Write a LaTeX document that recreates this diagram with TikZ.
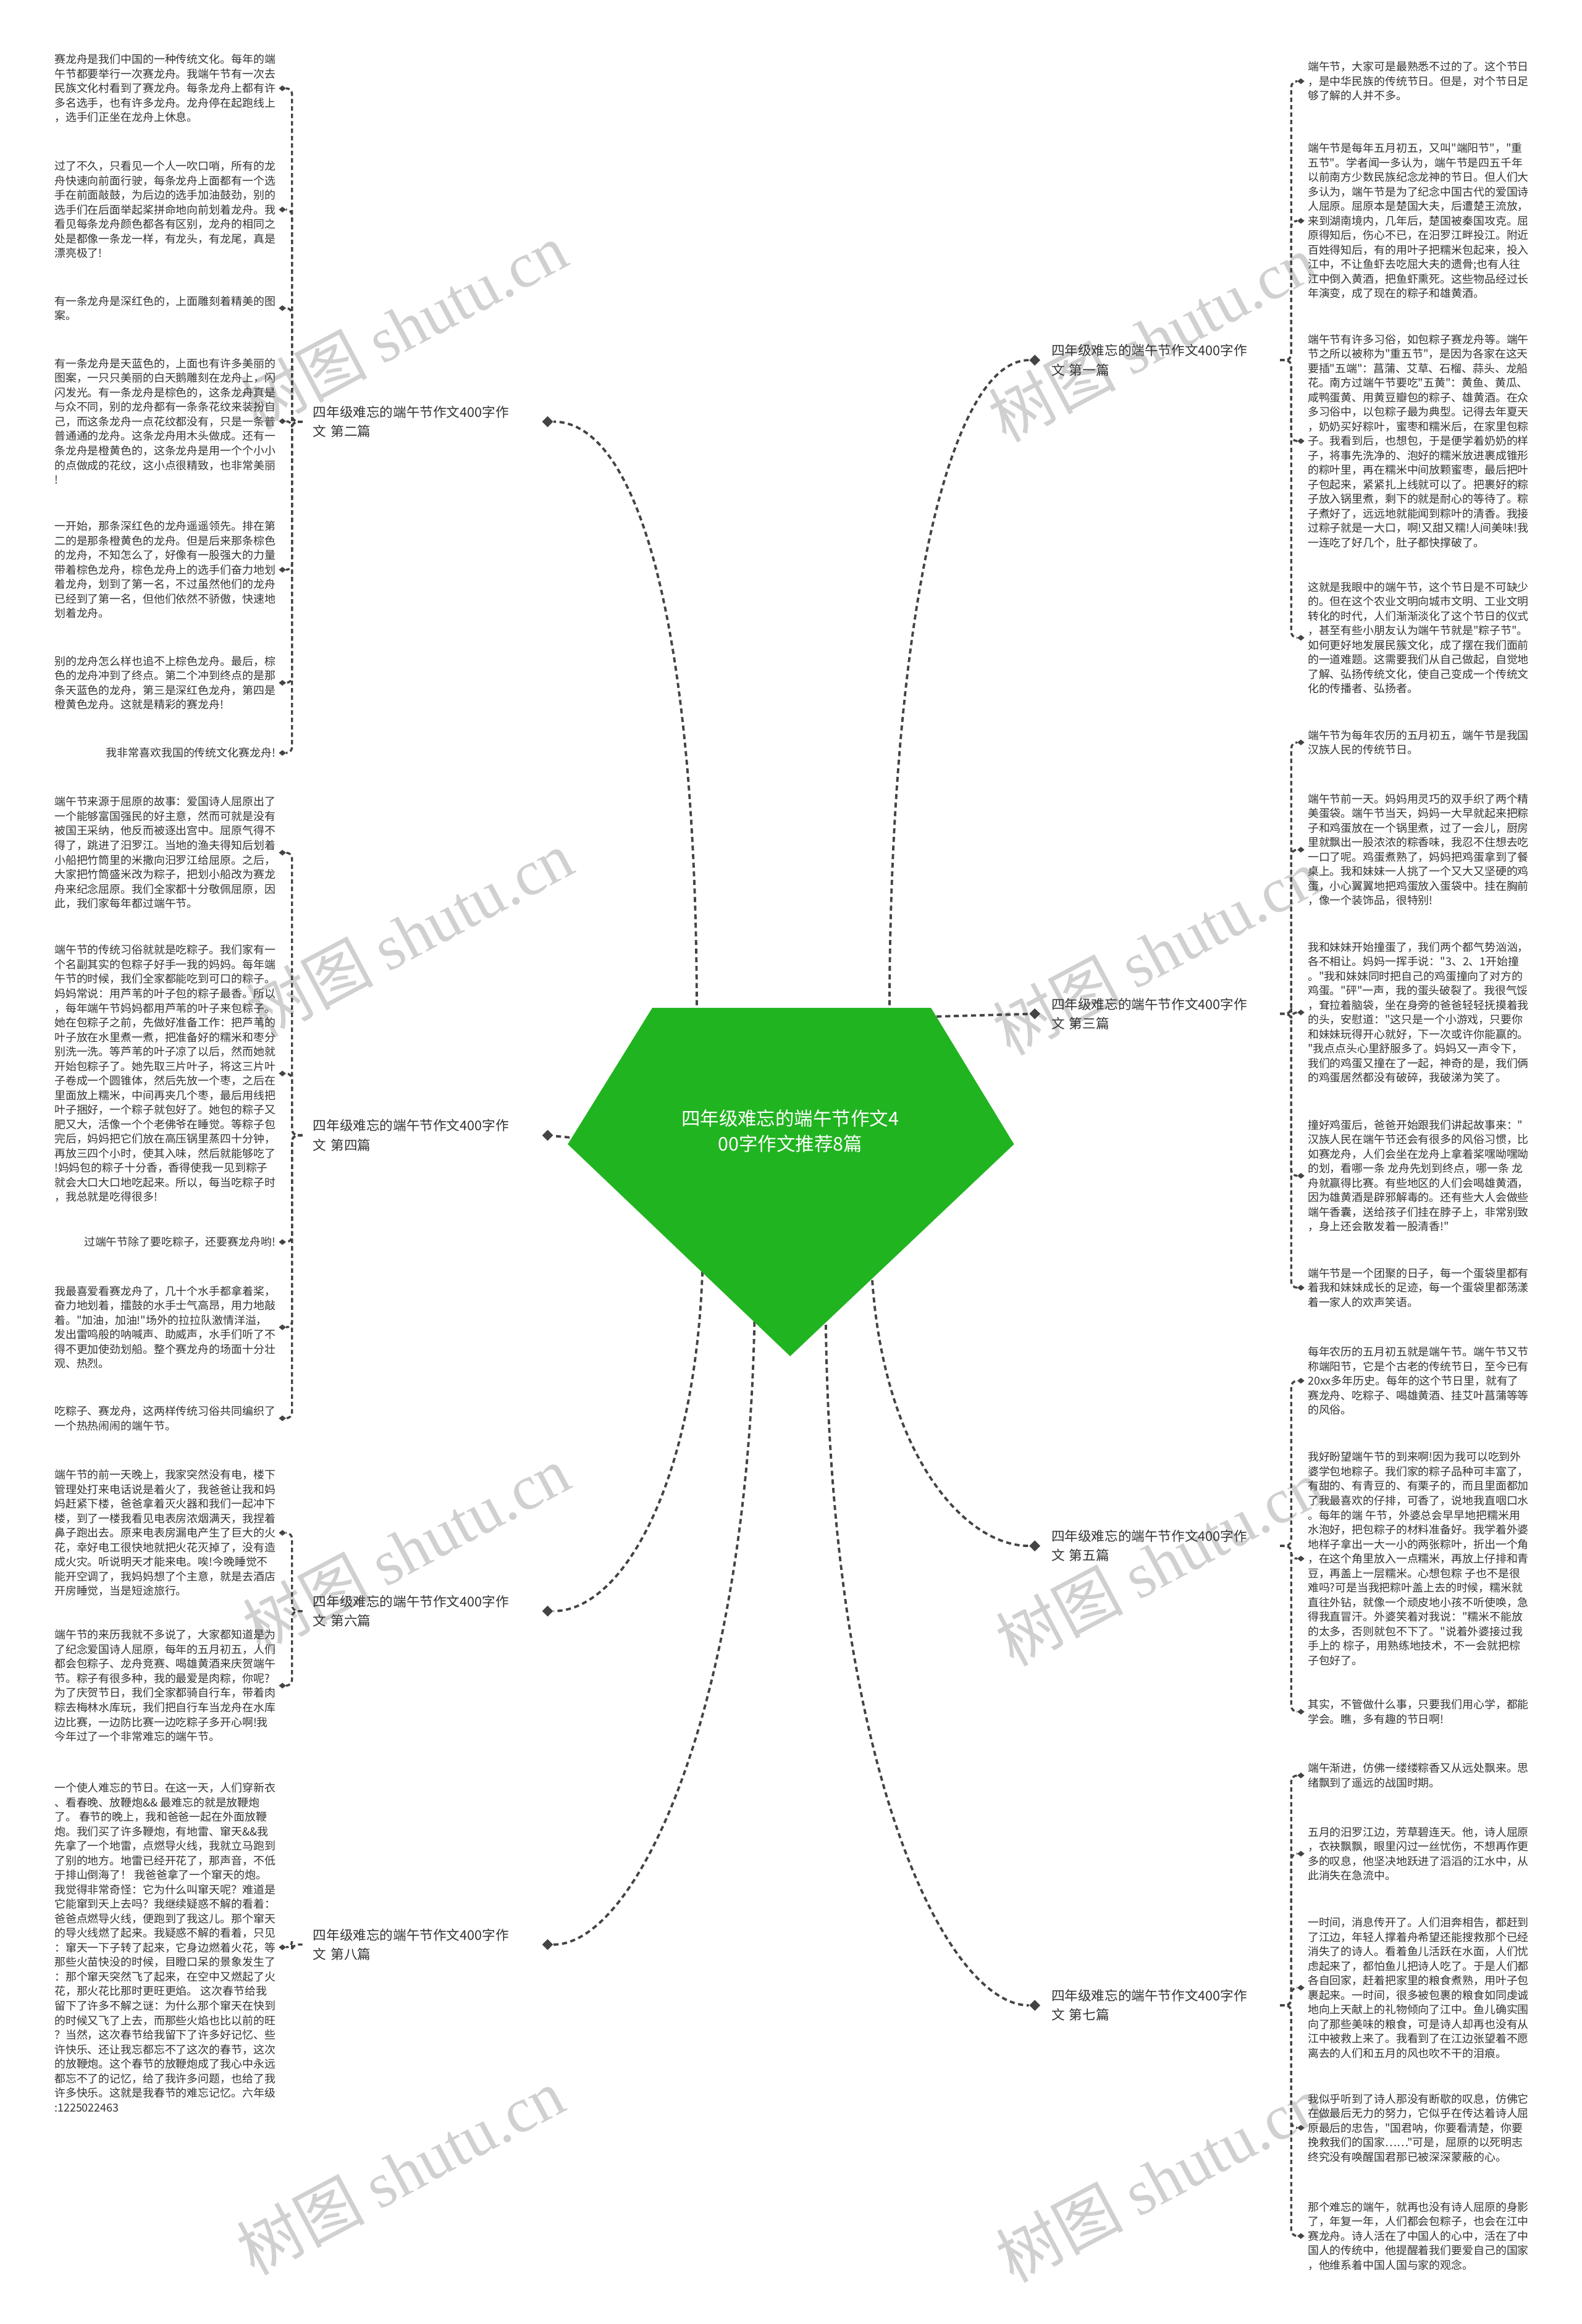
\documentclass[tikz,border=0pt]{standalone}
\usepackage{fontspec}
\newfontfamily\cjk{Noto Sans CJK SC}
\newfontfamily\wmlatin{Liberation Serif}
\usetikzlibrary{shapes.geometric,calc}
\pgfdeclarelayer{bg}
\pgfsetlayers{bg,main}
\definecolor{textgray}{HTML}{333333}
\definecolor{conngray}{HTML}{444444}
\definecolor{labfill}{HTML}{EEF1F4}
\definecolor{rootgreen}{HTML}{21B421}
\definecolor{wmgray}{HTML}{D0D0D0}
\tikzset{
  bodytxt/.style={font=\cjk\fontsize{7.45}{9.8}\selectfont, text=textgray, inner sep=0pt, align=left},
  txtL/.style={bodytxt, anchor=east},
  txtR/.style={bodytxt, anchor=west},
  branch/.style={font=\cjk\fontsize{9}{13}\selectfont, text=textgray, align=left, text width=147pt, inner xsep=7pt, inner ysep=0pt, minimum height=34pt, anchor=west},
  dmd/.style={diamond, fill=conngray, inner sep=0pt, minimum width=5pt, minimum height=4pt},
  bigdmd/.style={diamond, fill=conngray, inner sep=0pt, minimum width=7.5pt, minimum height=7.5pt},
  mainlink/.style={draw=conngray, line width=1.6pt, dash pattern=on 3.4pt off 2.4pt},
  sublink/.style={draw=conngray, line width=1.4pt, dash pattern=on 3pt off 2pt, rounded corners=4pt},
  wmark/.style={rotate=28, text=wmgray, inner sep=0pt, font=\cjk\fontsize{43}{45}\selectfont}
}
\begin{document}
\begin{tikzpicture}[x=1pt,y=-1pt]
\useasboundingbox (0,0) rectangle (1067,1568);
\fill[white] (0,0) rectangle (1067,1568);

% watermarks
\node[wmark] (wm1) at (272,220) {树图 {\wmlatin shutu.cn}};
\node[wmark] (wm2) at (777,228) {树图 {\wmlatin shutu.cn}};
\node[wmark] (wm3) at (276,630) {树图 {\wmlatin shutu.cn}};
\node[wmark] (wm4) at (780,642) {树图 {\wmlatin shutu.cn}};
\node[wmark] (wm5) at (274,1045) {树图 {\wmlatin shutu.cn}};
\node[wmark] (wm6) at (782,1054) {树图 {\wmlatin shutu.cn}};
\node[wmark] (wm7) at (270,1465) {树图 {\wmlatin shutu.cn}};
\node[wmark] (wm8) at (782,1470) {树图 {\wmlatin shutu.cn}};

% ---------- left text blocks ----------
\node[txtL] (l1) at (186,59.6) {赛龙舟是我们中国的一种传统文化。每年的端\\午节都要举行一次赛龙舟。我端午节有一次去\\民族文化村看到了赛龙舟。每条龙舟上都有许\\多名选手，也有许多龙舟。龙舟停在起跑线上\\，选手们正坐在龙舟上休息。};
\node[txtL] (l2) at (186,141.4) {过了不久，只看见一个人一吹口哨，所有的龙\\舟快速向前面行驶，每条龙舟上面都有一个选\\手在前面敲鼓，为后边的选手加油鼓劲，别的\\选手们在后面举起桨拼命地向前划着龙舟。我\\看见每条龙舟颜色都各有区别，龙舟的相同之\\处是都像一条龙一样，有龙头，有龙尾，真是\\漂亮极了!};
\node[txtL] (l3) at (186,207.9) {有一条龙舟是深红色的，上面雕刻着精美的图\\案。};
\node[txtL] (l4) at (186,284.2) {有一条龙舟是天蓝色的，上面也有许多美丽的\\图案，一只只美丽的白天鹅雕刻在龙舟上，闪\\闪发光。有一条龙舟是棕色的，这条龙舟真是\\与众不同，别的龙舟都有一条条花纹来装扮自\\己，而这条龙舟一点花纹都没有，只是一条普\\普通通的龙舟。这条龙舟用木头做成。还有一\\条龙舟是橙黄色的，这条龙舟是用一个个小小\\的点做成的花纹，这小点很精致，也非常美丽\\!};
\node[txtL] (l5) at (186,384.4) {一开始，那条深红色的龙舟遥遥领先。排在第\\二的是那条橙黄色的龙舟。但是后来那条棕色\\的龙舟，不知怎么了，好像有一股强大的力量\\带着棕色龙舟，棕色龙舟上的选手们奋力地划\\着龙舟，划到了第一名，不过虽然他们的龙舟\\已经到了第一名，但他们依然不骄傲，快速地\\划着龙舟。};
\node[txtL] (l6) at (186,460.7) {别的龙舟怎么样也追不上棕色龙舟。最后，棕\\色的龙舟冲到了终点。第二个冲到终点的是那\\条天蓝色的龙舟，第三是深红色龙舟，第四是\\橙黄色龙舟。这就是精彩的赛龙舟!};
\node[txtL] (l7) at (186,508) {我非常喜欢我国的传统文化赛龙舟!};
\node[txtL] (l8) at (186,575.3) {端午节来源于屈原的故事：爱国诗人屈原出了\\一个能够富国强民的好主意，然而可就是没有\\被国王采纳，他反而被逐出宫中。屈原气得不\\得了，跳进了汨罗江。当地的渔夫得知后划着\\小船把竹筒里的米撒向汨罗江给屈原。之后，\\大家把竹筒盛米改为粽子，把划小船改为赛龙\\舟来纪念屈原。我们全家都十分敬佩屈原，因\\此，我们家每年都过端午节。};
\node[txtL] (l9) at (186,724.3) {端午节的传统习俗就就是吃粽子。我们家有一\\个名副其实的包粽子好手一我的妈妈。每年端\\午节的时候，我们全家都能吃到可口的粽子。\\妈妈常说：用芦苇的叶子包的粽子最香。所以\\，每年端午节妈妈都用芦苇的叶子来包粽子。\\她在包粽子之前，先做好准备工作：把芦苇的\\叶子放在水里煮一煮，把准备好的糯米和枣分\\别洗一洗。等芦苇的叶子凉了以后，然而她就\\开始包粽子了。她先取三片叶子，将这三片叶\\子卷成一个圆锥体，然后先放一个枣，之后在\\里面放上糯米，中间再夹几个枣，最后用线把\\叶子捆好，一个粽子就包好了。她包的粽子又\\肥又大，活像一个个老佛爷在睡觉。等粽子包\\完后，妈妈把它们放在高压锅里蒸四十分钟，\\再放三四个小时，使其入味，然后就能够吃了\\!妈妈包的粽子十分香，香得使我一见到粽子\\就会大口大口地吃起来。所以，每当吃粽子时\\，我总就是吃得很多!};
\node[txtL] (l10) at (186,838) {过端午节除了要吃粽子，还要赛龙舟哟!};
\node[txtL] (l11) at (186,895.5) {我最喜爱看赛龙舟了，几十个水手都拿着桨，\\奋力地划着，擂鼓的水手士气高昂，用力地敲\\着。"加油，加油!"场外的拉拉队激情洋溢，\\发出雷鸣般的呐喊声、助威声，水手们听了不\\得不更加使劲划船。整个赛龙舟的场面十分壮\\观、热烈。};
\node[txtL] (l12) at (186,956.9) {吃粽子、赛龙舟，这两样传统习俗共同编织了\\一个热热闹闹的端午节。};
\node[txtL] (l13) at (186,1034.2) {端午节的前一天晚上，我家突然没有电，楼下\\管理处打来电话说是着火了，我爸爸让我和妈\\妈赶紧下楼，爸爸拿着灭火器和我们一起冲下\\楼，到了一楼我看见电表房浓烟满天，我捏着\\鼻子跑出去。原来电表房漏电产生了巨大的火\\花，幸好电工很快地就把火花灭掉了，没有造\\成火灾。听说明天才能来电。唉!今晚睡觉不\\能开空调了，我妈妈想了个主意，就是去酒店\\开房睡觉，当是短途旅行。};
\node[txtL] (l14) at (186,1137.3) {端午节的来历我就不多说了，大家都知道是为\\了纪念爱国诗人屈原，每年的五月初五，人们\\都会包粽子、龙舟竞赛、喝雄黄酒来庆贺端午\\节。粽子有很多种，我的最爱是肉粽，你呢?\\为了庆贺节日，我们全家都骑自行车，带着肉\\粽去梅林水库玩，我们把自行车当龙舟在水库\\边比赛，一边防比赛一边吃粽子多开心啊!我\\今年过了一个非常难忘的端午节。};
\node[txtL] (l15) at (186,1313.8) {一个使人难忘的节日。在这一天，人们穿新衣\\、看春晚、放鞭炮\&\& 最难忘的就是放鞭炮\\了。 春节的晚上，我和爸爸一起在外面放鞭\\炮。我们买了许多鞭炮，有地雷、窜天\&\&我\\先拿了一个地雷，点燃导火线，我就立马跑到\\了别的地方。地雷已经开花了，那声音，不低\\于排山倒海了！ 我爸爸拿了一个窜天的炮。\\我觉得非常奇怪：它为什么叫窜天呢？难道是\\它能窜到天上去吗？我继续疑惑不解的看着：\\爸爸点燃导火线，便跑到了我这儿。那个窜天\\的导火线燃了起来。我疑惑不解的看着，只见\\：窜天一下子转了起来，它身边燃着火花，等\\那些火苗快没的时候，目瞪口呆的景象发生了\\：那个窜天突然飞了起来，在空中又燃起了火\\花，那火花比那时更旺更焰。 这次春节给我\\留下了许多不解之谜：为什么那个窜天在快到\\的时候又飞了上去，而那些火焰也比以前的旺\\？当然，这次春节给我留下了许多好记忆、些\\许快乐、还让我忘都忘不了这次的春节，这次\\的放鞭炮。这个春节的放鞭炮成了我心中永远\\都忘不了的记忆，给了我许多问题，也给了我\\许多快乐。这就是我春节的难忘记忆。六年级\\:1225022463};

% ---------- right text blocks ----------
\node[txtR] (r1) at (882,54.8) {端午节，大家可是最熟悉不过的了。这个节日\\，是中华民族的传统节日。但是，对个节日足\\够了解的人并不多。};
\node[txtR] (r2) at (882,149) {端午节是每年五月初五，又叫"端阳节"，"重\\五节"。学者闻一多认为，端午节是四五千年\\以前南方少数民族纪念龙神的节日。但人们大\\多认为，端午节是为了纪念中国古代的爱国诗\\人屈原。屈原本是楚国大夫，后遭楚王流放，\\来到湖南境内，几年后，楚国被秦国攻克。屈\\原得知后，伤心不已，在汨罗江畔投江。附近\\百姓得知后，有的用叶子把糯米包起来，投入\\江中，不让鱼虾去吃屈大夫的遗骨;也有人往\\江中倒入黄酒，把鱼虾熏死。这些物品经过长\\年演变，成了现在的粽子和雄黄酒。};
\node[txtR] (r3) at (882,297.6) {端午节有许多习俗，如包粽子赛龙舟等。端午\\节之所以被称为"重五节"，是因为各家在这天\\要插"五端"：菖蒲、艾草、石榴、蒜头、龙船\\花。南方过端午节要吃"五黄"：黄鱼、黄瓜、\\咸鸭蛋黄、用黄豆瓣包的粽子、雄黄酒。在众\\多习俗中，以包粽子最为典型。记得去年夏天\\，奶奶买好粽叶，蜜枣和糯米后，在家里包粽\\子。我看到后，也想包，于是便学着奶奶的样\\子，将事先洗净的、泡好的糯米放进裹成锥形\\的粽叶里，再在糯米中间放颗蜜枣，最后把叶\\子包起来，紧紧扎上线就可以了。把裹好的粽\\子放入锅里煮，剩下的就是耐心的等待了。粽\\子煮好了，远远地就能闻到粽叶的清香。我接\\过粽子就是一大口，啊!又甜又糯!人间美味!我\\一连吃了好几个，肚子都快撑破了。};
\node[txtR] (r4) at (882,430.3) {这就是我眼中的端午节，这个节日是不可缺少\\的。但在这个农业文明向城市文明、工业文明\\转化的时代，人们渐渐淡化了这个节日的仪式\\，甚至有些小朋友认为端午节就是"粽子节"。\\如何更好地发展民簇文化，成了摆在我们面前\\的一道难题。这需要我们从自己做起，自觉地\\了解、弘扬传统文化，使自己变成一个传统文\\化的传播者、弘扬者。};
\node[txtR] (r5) at (882,500.9) {端午节为每年农历的五月初五，端午节是我国\\汉族人民的传统节日。};
\node[txtR] (r6) at (882,573.3) {端午节前一天。妈妈用灵巧的双手织了两个精\\美蛋袋。端午节当天，妈妈一大早就起来把粽\\子和鸡蛋放在一个锅里煮，过了一会儿，厨房\\里就飘出一股浓浓的粽香味，我忍不住想去吃\\一口了呢。鸡蛋煮熟了，妈妈把鸡蛋拿到了餐\\桌上。我和妹妹一人挑了一个又大又坚硬的鸡\\蛋，小心翼翼地把鸡蛋放入蛋袋中。挂在胸前\\，像一个装饰品，很特别!};
\node[txtR] (r7) at (882,683.1) {我和妹妹开始撞蛋了，我们两个都气势汹汹，\\各不相让。妈妈一挥手说："3、2、1开始撞\\。"我和妹妹同时把自己的鸡蛋撞向了对方的\\鸡蛋。"砰"一声，我的蛋头破裂了。我很气馁\\，耷拉着脑袋，坐在身旁的爸爸轻轻抚摸着我\\的头，安慰道："这只是一个小游戏，只要你\\和妹妹玩得开心就好，下一次或许你能赢的。\\"我点点头心里舒服多了。妈妈又一声令下，\\我们的鸡蛋又撞在了一起，神奇的是，我们俩\\的鸡蛋居然都没有破碎，我破涕为笑了。};
\node[txtR] (r8) at (882,793.3) {撞好鸡蛋后，爸爸开始跟我们讲起故事来："\\汉族人民在端午节还会有很多的风俗习惯，比\\如赛龙舟，人们会坐在龙舟上拿着桨嘿呦嘿呦\\的划，看哪一条 龙舟先划到终点，哪一条 龙\\舟就赢得比赛。有些地区的人们会喝雄黄酒，\\因为雄黄酒是辟邪解毒的。还有些大人会做些\\端午香囊，送给孩子们挂在脖子上，非常别致\\，身上还会散发着一股清香!"};
\node[txtR] (r9) at (882,868.8) {端午节是一个团聚的日子，每一个蛋袋里都有\\着我和妹妹成长的足迹，每一个蛋袋里都荡漾\\着一家人的欢声笑语。};
\node[txtR] (r10) at (882,931.6) {每年农历的五月初五就是端午节。端午节又节\\称端阳节，它是个古老的传统节日，至今已有\\20xx多年历史。每年的这个节日里，就有了\\赛龙舟、吃粽子、喝雄黄酒、挂艾叶菖蒲等等\\的风俗。};
\node[txtR] (r11) at (882,1051.6) {我好盼望端午节的到来啊!因为我可以吃到外\\婆学包地粽子。我们家的粽子品种可丰富了，\\有甜的、有青豆的、有栗子的，而且里面都加\\了我最喜欢的仔排，可香了，说地我直咽口水\\。每年的端 午节，外婆总会早早地把糯米用\\水泡好，把包粽子的材料准备好。我学着外婆\\地样子拿出一大一小的两张粽叶，折出一个角\\，在这个角里放入一点糯米，再放上仔排和青\\豆，再盖上一层糯米。心想包粽 子也不是很\\难吗?可是当我把粽叶盖上去的时候，糯米就\\直往外钻，就像一个顽皮地小孩不听使唤，急\\得我直冒汗。外婆笑着对我说："糯米不能放\\的太多，否则就包不下了。"说着外婆接过我\\手上的 棕子，用熟练地技术，不一会就把棕\\子包好了。};
\node[txtR] (r12) at (882,1154.9) {其实，不管做什么事，只要我们用心学，都能\\学会。瞧，多有趣的节日啊!};
\node[txtR] (r13) at (882,1197.9) {端午渐进，仿佛一缕缕粽香又从远处飘来。思\\绪飘到了遥远的战国时期。};
\node[txtR] (r14) at (882,1250.7) {五月的汨罗江边，芳草碧连天。他，诗人屈原\\，衣袂飘飘，眼里闪过一丝忧伤，不想再作更\\多的叹息，他坚决地跃进了滔滔的江水中，从\\此消失在急流中。};
\node[txtR] (r15) at (882,1341.1) {一时间，消息传开了。人们泪奔相告，都赶到\\了江边，年轻人撑着舟希望还能搜救那个已经\\消失了的诗人。看着鱼儿活跃在水面，人们忧\\虑起来了，都怕鱼儿把诗人吃了。于是人们都\\各自回家，赶着把家里的粮食煮熟，用叶子包\\裹起来。一时间，很多被包裹的粮食如同虔诚\\地向上天献上的礼物倾向了江中。鱼儿确实围\\向了那些美味的粮食，可是诗人却再也没有从\\江中被救上来了。我看到了在江边张望着不愿\\离去的人们和五月的风也吹不干的泪痕。};
\node[txtR] (r16) at (882,1435.6) {我似乎听到了诗人那没有断歇的叹息，仿佛它\\在做最后无力的努力，它似乎在传达着诗人屈\\原最后的忠告，"国君呐，你要看清楚，你要\\挽救我们的国家……"可是，屈原的以死明志\\终究没有唤醒国君那已被深深蒙蔽的心。};
\node[txtR] (r17) at (882,1508.6) {那个难忘的端午，就再也没有诗人屈原的身影\\了，年复一年，人们都会包粽子，也会在江中\\赛龙舟。诗人活在了中国人的心中，活在了中\\国人的传统中，他提醒着我们要爱自己的国家\\，他维系着中国人国与家的观念。};

% child diamonds
\foreach \c in {l1,l2,l3,l4,l5,l6,l7,l8,l9,l10,l11,l12,l13,l14,l15}
  \node[dmd] (d\c) at ($(\c.east)+(4.5,0)$) {};
\foreach \c in {r1,r2,r3,r4,r5,r6,r7,r8,r9,r10,r11,r12,r13,r14,r15,r16,r17}
  \node[dmd] (d\c) at ($(\c.west)+(-4.5,0)$) {};

% ---------- branch labels ----------
\node[branch] (b2) at (204,284.5) {四年级难忘的端午节作文400字作\\文 第二篇};
\node[branch] (b4) at (204,766) {四年级难忘的端午节作文400字作\\文 第四篇};
\node[branch] (b6) at (204,1087) {四年级难忘的端午节作文400字作\\文 第六篇};
\node[branch] (b8) at (204,1312) {四年级难忘的端午节作文400字作\\文 第八篇};
\node[branch] (b1) at (702,243) {四年级难忘的端午节作文400字作\\文 第一篇};
\node[branch] (b3) at (702,684) {四年级难忘的端午节作文400字作\\文 第三篇};
\node[branch] (b5) at (702,1043) {四年级难忘的端午节作文400字作\\文 第五篇};
\node[branch] (b7) at (702,1353) {四年级难忘的端午节作文400字作\\文 第七篇};

\begin{pgfonlayer}{bg}
\foreach \b in {b1,b2,b3,b4,b5,b6,b7,b8}
  \fill[labfill] (\b.south west) -- (\b.south east) -- ([yshift=-5pt]\b.north east) -- ([xshift=-5pt]\b.north east) -- (\b.north west) -- cycle;
\end{pgfonlayer}

% big diamonds
\foreach \b in {b2,b4,b6,b8}
  \node[bigdmd] (d\b) at ($(\b.east)+(4,0)$) {};
\foreach \b in {b1,b3,b5,b7}
  \node[bigdmd] (d\b) at ($(\b.west)+(-4,0)$) {};

% sub links
\foreach \c in {l1,l2,l3,l4,l5,l6,l7}
  \draw[sublink] (b2.west) -| ($(d\c)+(6.5,0)$) -- (d\c);
\foreach \c in {l8,l9,l10,l11,l12}
  \draw[sublink] (b4.west) -| ($(d\c)+(6.5,0)$) -- (d\c);
\foreach \c in {l13,l14}
  \draw[sublink] (b6.west) -| ($(d\c)+(6.5,0)$) -- (d\c);
\foreach \c in {l15}
  \draw[sublink] (b8.west) -| ($(d\c)+(6.5,0)$) -- (d\c);
\foreach \c in {r1,r2,r3,r4}
  \draw[sublink] (b1.east) -| ($(d\c)+(-6.5,0)$) -- (d\c);
\foreach \c in {r5,r6,r7,r8,r9}
  \draw[sublink] (b3.east) -| ($(d\c)+(-6.5,0)$) -- (d\c);
\foreach \c in {r10,r11,r12}
  \draw[sublink] (b5.east) -| ($(d\c)+(-6.5,0)$) -- (d\c);
\foreach \c in {r13,r14,r15,r16,r17}
  \draw[sublink] (b7.east) -| ($(d\c)+(-6.5,0)$) -- (d\c);

% main links from the root shape
\coordinate (p2) at (470,684);
\coordinate (p4) at (390,768);
\coordinate (p6) at (474,852);
\coordinate (p8) at (509,886);
\coordinate (p1) at (600,684);
\coordinate (p3) at (626,686);
\coordinate (p5) at (588,858);
\coordinate (p7) at (557,888);
\draw[mainlink] (p2) .. controls (470,420) and (430,284.5) .. (db2);
\draw[mainlink] (p4) -- (db4);
\draw[mainlink] (p6) .. controls (470,1000) and (420,1087) .. (db6);
\draw[mainlink] (p8) .. controls (505,1150) and (430,1312) .. (db8);
\draw[mainlink] (p1) .. controls (600,420) and (640,243) .. (db1);
\draw[mainlink] (p3) -- (db3);
\draw[mainlink] (p5) .. controls (595,980) and (650,1043) .. (db5);
\draw[mainlink] (p7) .. controls (560,1200) and (640,1353) .. (db7);

% root shape
\fill[rootgreen] (440,680) -- (628,680) -- (684,772) -- (533,915) -- (383,772) -- cycle;
\node[font=\cjk\fontsize{12.7}{17}\selectfont, text=white, align=center, inner sep=0pt] (root) at (533,763) {四年级难忘的端午节作文4\\00字作文推荐8篇};
\end{tikzpicture}
\end{document}
